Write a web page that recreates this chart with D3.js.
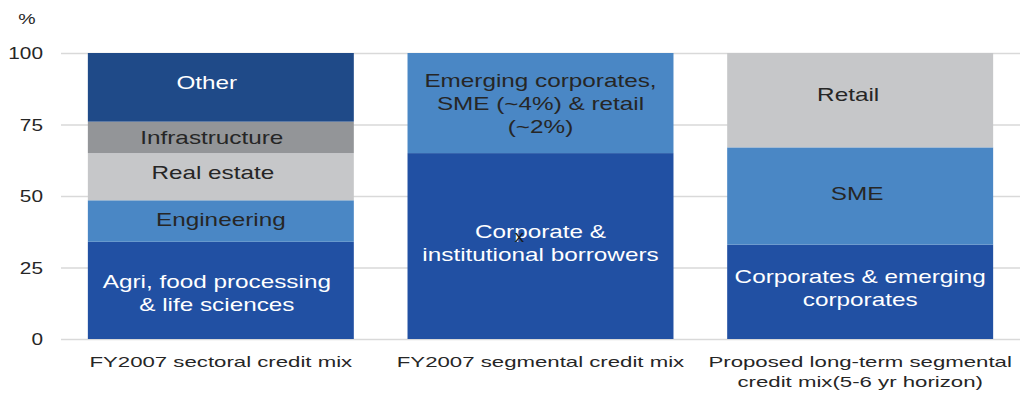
<!DOCTYPE html>
<html>
<head>
<meta charset="utf-8">
<script src="https://cdn.jsdelivr.net/npm/d3@7"></script>
<style>
  html, body { margin: 0; padding: 0; background: #ffffff; }
  svg { display: block; font-family: "Liberation Sans", Arial, sans-serif; }
</style>
</head>
<body>
<svg id="chart" width="1026" height="394"></svg>
<script>
// Credit mix: three 100% stacked columns
const categories = [
  "FY2007 sectoral credit mix",
  "FY2007 segmental credit mix",
  "Proposed long-term segmental\ncredit mix(5-6 yr horizon)"
];

// Segment labels and shares (%) for each column, bottom to top
const sectoralSegments = ["Agri, food processing\n& life sciences", "Engineering", "Real estate", "Infrastructure", "Other"];
const sectoralValues = [34, 14.5, 16.5, 11, 24];

const segmentalSegments = ["Corporate &\ninstitutional borrowers", "Emerging corporates,\nSME (~4%) & retail\n(~2%)"];
const segmentalValues = [65, 35];

const proposedSegments = ["Corporates & emerging\ncorporates", "SME", "Retail"];
const proposedValues = [33, 34, 33];

// Stray "x" marker sitting inside the middle column
const markerCategory = "FY2007 segmental credit mix";
const markerValue = 35;

const yTicks = [0, 25, 50, 75, 100];
const yUnit = "%";

// Segment fills (dark blue, mid blue, light grey, dark grey, navy)
const palette = {
  "Agri, food processing\n& life sciences": "#2150A3",
  "Engineering": "#4A87C5",
  "Real estate": "#C6C7C9",
  "Infrastructure": "#939598",
  "Other": "#1F4A88",
  "Corporate &\ninstitutional borrowers": "#2150A3",
  "Emerging corporates,\nSME (~4%) & retail\n(~2%)": "#4A87C5",
  "Corporates & emerging\ncorporates": "#2150A3",
  "SME": "#4A87C5",
  "Retail": "#C6C7C9"
};

// Small per-label nudges (px) of the in-bar text boxes
const labelNudge = {
  "Other": [-14, -5],
  "Infrastructure": [-9, 0],
  "Real estate": [-8, -4],
  "Engineering": [0, -2],
  "Agri, food processing\n& life sciences": [-4, 3],
  "Corporate &\ninstitutional borrowers": [0, -3],
  "Retail": [-12, -6],
  "SME": [-3, -3],
  "Corporates & emerging\ncorporates": [0, -4]
};

const darkText = "#262626";
const lightFills = new Set(["#4A87C5", "#C6C7C9", "#939598"]);

const columns = [
  { cat: categories[0], names: sectoralSegments, values: sectoralValues },
  { cat: categories[1], names: segmentalSegments, values: segmentalValues },
  { cat: categories[2], names: proposedSegments, values: proposedValues }
];

const svg = d3.select("#chart");
const plotLeft = 61, plotRight = 1020, plotTop = 53, plotBottom = 339;

const x = d3.scaleBand()
  .domain(categories)
  .range([plotLeft, plotRight])
  .paddingInner(0.168)
  .paddingOuter(0.084);

const y = d3.scaleLinear().domain([0, 100]).range([plotBottom, plotTop]);

// Gridlines + tick labels
const axis = svg.append("g")
  .attr("transform", `translate(${plotLeft},0)`)
  .call(d3.axisLeft(y).tickValues(yTicks).tickSize(-(plotRight - plotLeft)).tickFormat(d3.format("d")));
axis.select(".domain").remove();
axis.selectAll(".tick line").attr("stroke", "#D9D9D9").attr("stroke-width", 1.6);
axis.selectAll(".tick text")
  .attr("x", null)
  .attr("dy", "0.37em")
  .attr("transform", "translate(-18,0) scale(1.3,1)")
  .attr("fill", darkText)
  .style("font-size", "16px");

svg.append("text")
  .attr("transform", "translate(27,24) scale(1.3,1)")
  .attr("text-anchor", "middle")
  .attr("fill", darkText)
  .style("font-size", "15px")
  .text(yUnit);

// Stack segments per column
columns.forEach(col => {
  let acc = 0;
  const segs = col.names.map((name, i) => {
    const s = { name, y0: acc, y1: acc + col.values[i] };
    acc += col.values[i];
    return s;
  });
  const g = svg.append("g");
  g.selectAll("rect")
    .data(segs)
    .join("rect")
    .attr("x", x(col.cat))
    .attr("width", x.bandwidth())
    .attr("y", d => y(d.y1))
    .attr("height", d => y(d.y0) - y(d.y1))
    .attr("fill", d => palette[d.name]);

  const lh = 23, capH = 13;
  segs.forEach(d => {
    const lines = d.name.split("\n");
    const [nx, ny] = labelNudge[d.name] || [0, 0];
    const cy = (y(d.y0) + y(d.y1)) / 2 + ny;
    const cx = x(col.cat) + x.bandwidth() / 2 + nx;
    const first = cy - (lines.length - 1) * lh / 2 + capH / 2;
    const fill = lightFills.has(palette[d.name]) ? darkText : "#ffffff";
    lines.forEach((ln, k) => {
      g.append("text")
        .attr("transform", `translate(${cx},${first + k * lh}) scale(1.35,1)`)
        .attr("text-anchor", "middle")
        .attr("fill", fill)
        .style("font-size", "18px")
        .text(ln);
    });
  });
});

// Marker
svg.append("text")
  .attr("transform", `translate(${x(markerCategory) + x.bandwidth() * 0.42},${y(markerValue) + 3}) scale(1.2,1)`)
  .attr("text-anchor", "middle")
  .attr("fill", "#1a1a1a")
  .style("font-size", "16px")
  .text("x");

// Category labels
categories.forEach(cat => {
  cat.split("\n").forEach((ln, k) => {
    svg.append("text")
      .attr("transform", `translate(${x(cat) + x.bandwidth() / 2},${367 + k * 20}) scale(1.48,1)`)
      .attr("text-anchor", "middle")
      .attr("fill", darkText)
      .style("font-size", "15px")
      .text(ln);
  });
});
</script>
</body>
</html>
